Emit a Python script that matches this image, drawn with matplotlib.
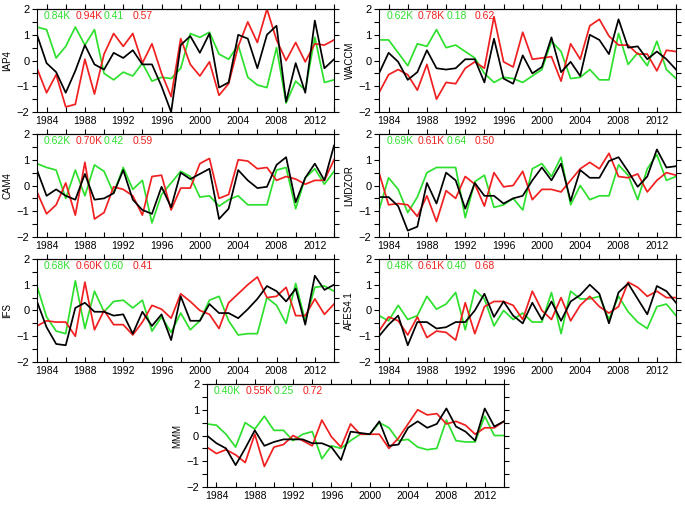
# Interannual anomalies 1983-2014: seven model panels, three lines each

import numpy as np
import matplotlib.pyplot as plt
from matplotlib.ticker import MultipleLocator

plt.rcParams['font.family'] = ['Liberation Sans', 'DejaVu Sans']

years = np.arange(1983, 2015)

# IAP4
iap4_black = [1.0, -0.1, -0.45, -1.25, -0.4, 0.6, -0.15, -0.35, 0.3, 0.1, 0.4, -0.15, -0.15, -1.0, -2.0, 0.6,
              0.95, 0.3, 1.05, -1.05, -0.85, 1.0, 0.85, -0.3, 1.0, 1.35, -1.6, -0.1, -1.25, 1.55, -0.3, 0.05]
iap4_red = [-0.3, -1.25, -0.55, -1.8, -1.7, 0.05, -1.3, 0.25, 1.05, 0.55, 1.05, -0.1, 0.65, -0.5, -1.4, 0.85,
            -0.15, -0.6, -0.05, -1.35, -0.9, 0.55, 1.5, 0.7, 2.0, 0.8, 0.0, 0.7, -0.05, 0.65, 0.6, 0.8]
iap4_green = [1.3, 1.2, 0.1, 0.55, 1.3, 0.6, 1.2, -0.5, -0.75, -0.45, -0.6, -0.1, -0.8, -0.65, -0.7, -0.3,
              1.05, 0.9, 1.1, 0.25, 0.05, 0.6, -0.65, -0.95, -1.05, 0.5, -1.65, -0.8, -1.15, 0.9, -0.85, -0.75]

# WACCM
waccm_black = [-0.5, 0.3, -0.05, -0.75, -0.45, 0.4, -0.3, -0.35, -0.3, 0.05, 0.05, -0.85, 0.85, -0.7, -0.9, 0.2,
               -0.5, -0.25, 0.9, -0.45, -0.05, -0.6, 1.0, 0.8, 0.25, 1.6, 0.5, 0.55, 0.05, 0.35, 0.05, -0.35]
waccm_red = [-1.25, -0.55, -0.35, -0.55, -1.15, -0.15, -1.5, -0.85, -0.9, -0.3, -0.05, -0.3, 1.7, -0.05, -0.25, 1.1,
             0.05, 0.1, 0.15, -0.8, 0.65, 0.05, 1.35, 1.6, 0.95, 0.6, 0.6, 0.25, 0.25, -0.4, 0.4, 0.35]
waccm_green = [0.8, 0.8, 0.3, -0.2, 0.65, 0.55, 1.2, 0.5, 0.6, 0.35, 0.1, -0.5, -0.85, -0.65, -0.7, -0.85,
               -0.6, -0.35, 0.75, 0.35, -0.7, -0.65, -0.35, -0.75, -0.75, 1.05, -0.15, 0.3, -0.2, 0.75, -0.35, -0.7]

# CAM4
cam4_black = [0.6, -0.4, -0.15, -0.4, -0.55, 0.45, -0.55, -0.5, -0.3, 0.6, -0.55, -0.95, -1.1, -0.05, -0.85, 0.5,
              0.25, 0.45, 0.65, -1.3, -0.9, 0.6, 0.2, -0.1, -0.05, 0.8, 1.1, -0.65, 0.3, 0.85, 0.2, 1.55]
cam4_red = [-0.25, -1.1, -0.75, 0.1, -1.15, 0.9, -1.3, -1.05, -0.05, -0.15, -0.4, -1.15, 0.35, 0.4, -0.95, -0.1,
            -0.1, 0.85, 1.05, -0.5, -0.35, 1.0, 0.95, 0.65, 0.7, 0.2, 0.35, 0.25, 0.05, 0.2, 0.2, 1.0]
cam4_green = [0.85, 0.7, 0.6, -0.5, 0.6, -0.4, 0.8, 0.55, -0.3, 0.7, -0.15, 0.2, -1.45, -0.35, 0.1, 0.55,
              0.35, -0.45, -0.4, -0.8, -0.55, -0.4, -0.75, -0.75, -0.75, 0.6, 0.7, -0.9, 0.3, 0.65, 0.05, 0.55]

# LMDZOR
lmdz_black = [-0.45, -0.45, -0.8, -1.75, -1.6, 0.1, -0.7, 0.5, 0.2, -0.9, 0.1, -0.4, -0.4, -0.7, -0.5, -0.4,
              0.2, 0.7, 0.2, 0.85, -0.6, 0.6, 0.3, 0.3, 0.95, 1.1, 0.55, -0.05, 0.35, 1.4, 0.7, 0.75]
lmdz_red = [0.5, -0.75, -0.7, -0.75, -1.2, -0.4, -1.4, -0.2, -0.5, 0.35, 0.05, -0.8, 0.5, -0.05, 0.0, 0.55,
            -0.55, -0.15, -0.15, -0.25, 0.2, 0.65, 0.9, 0.65, 1.25, 0.35, 0.3, 0.45, -0.25, 0.2, 0.5, 0.4]
lmdz_green = [-0.95, 0.3, -0.15, -1.05, -0.45, 0.5, 0.7, 0.7, 0.7, -1.25, 0.15, 0.4, -0.85, -0.75, -0.5, -0.95,
              0.65, 0.85, 0.35, 1.1, -0.75, 0.0, -0.55, -0.4, -0.4, 0.8, 0.4, -0.55, 0.65, 1.2, 0.2, 0.35]

# IFS
ifs_black = [0.35, -0.65, -1.3, -1.35, 0.1, 0.3, -0.05, -0.05, -0.2, -0.15, -0.9, -0.05, -0.6, -0.15, -1.15, 0.55,
             -0.4, -0.4, 0.25, -0.1, -0.1, -0.3, 0.05, 0.45, 0.95, 0.75, 0.35, 0.85, -0.55, 1.35, 0.8, 1.0]
ifs_red = [-0.6, -0.4, -0.45, -0.45, -1.0, 1.1, -0.75, 0.0, -0.55, -0.55, -0.95, -0.45, 0.2, 0.05, -0.3, 0.65,
           0.35, 0.0, -0.15, -0.7, 0.3, 0.65, 1.0, 1.3, 0.5, 0.55, 0.9, -0.2, -0.2, 0.45, -0.15, 0.25]
ifs_green = [0.95, -0.25, -0.8, -0.9, 1.15, -0.7, 0.75, -0.05, 0.35, 0.4, 0.1, 0.4, -0.8, -0.25, -0.85, -0.1,
             -0.75, -0.4, 0.4, 0.55, -0.4, -0.95, -0.9, -0.9, 0.5, 0.2, -0.5, 1.05, -0.4, 0.9, 0.95, 0.75]

# AFES4.1
afes_black = [-1.0, -0.55, -0.2, -1.35, -0.45, -0.45, -0.7, -0.65, -0.45, -0.45, 0.0, 0.65, -0.25, 0.35, -0.2, -0.5,
              0.3, -0.35, 0.35, -0.4, 0.35, 0.6, 1.0, 0.65, -0.5, 0.7, 1.05, 0.45, -0.15, 0.95, 0.75, 0.3]
afes_red = [-0.8, -0.25, -0.4, -0.95, -0.25, -1.05, -0.8, -0.85, -1.15, 0.3, -0.9, 0.15, 0.35, 0.35, 0.2, -0.35,
            0.75, 0.0, -0.35, 0.5, -0.4, 0.2, 0.55, 0.15, -0.1, 0.15, 1.1, 0.9, 0.55, 0.75, 0.5, 0.5]
afes_green = [-0.2, -0.4, 0.2, -0.35, -0.2, 0.55, 0.05, 0.25, 0.7, -0.75, 0.8, 0.45, -0.6, 0.0, -0.35, -0.1,
              -0.45, -0.45, 0.7, -0.9, 0.75, 0.45, 0.45, 0.55, -0.35, 0.55, -0.05, -0.45, -0.7, 0.15, 0.25, -0.2]

# MMM
mmm_black = [0.0, -0.3, -0.5, -1.15, -0.5, 0.2, -0.4, -0.25, -0.15, -0.15, -0.15, -0.3, -0.3, -0.45, -0.95, 0.15,
             0.1, 0.05, 0.55, -0.4, -0.35, 0.3, 0.55, 0.3, 0.45, 1.05, 0.35, 0.15, -0.2, 1.05, 0.35, 0.55]
mmm_red = [-0.45, -0.7, -0.55, -0.75, -1.05, 0.05, -1.2, -0.45, -0.35, 0.0, -0.2, -0.4, 0.6, -0.05, -0.45, 0.45,
           0.05, 0.05, 0.05, -0.5, -0.1, 0.45, 1.0, 0.8, 0.85, 0.45, 0.55, 0.4, 0.05, 0.3, 0.3, 0.55]
mmm_green = [0.45, 0.4, 0.05, -0.45, 0.5, 0.25, 0.75, 0.2, 0.2, -0.2, 0.05, 0.15, -0.9, -0.4, -0.5, -0.2,
             0.05, 0.05, 0.5, 0.3, -0.2, -0.15, -0.45, -0.55, -0.5, 0.6, -0.2, -0.25, -0.25, 0.75, 0.0, 0.0]

names = ['IAP4', 'WACCM', 'CAM4', 'LMDZOR', 'IFS', 'AFES4.1', 'MMM']
blacks = [iap4_black, waccm_black, cam4_black, lmdz_black, ifs_black, afes_black, mmm_black]
reds = [iap4_red, waccm_red, cam4_red, lmdz_red, ifs_red, afes_red, mmm_red]
greens = [iap4_green, waccm_green, cam4_green, lmdz_green, ifs_green, afes_green, mmm_green]

# numbers written in the top left corner of each panel
std_green = ['0.84K', '0.62K', '0.62K', '0.69K', '0.68K', '0.48K', '0.40K']
std_red = ['0.94K', '0.78K', '0.70K', '0.61K', '0.60K', '0.61K', '0.55K']
corr_green = ['0.41', '0.18', '0.42', '0.64', '0.60', '0.40', '0.25']
corr_red = ['0.57', '0.62', '0.59', '0.50', '0.41', '0.68', '0.72']

RED = '#f02020'
GREEN = '#2ee02e'

fig = plt.figure(figsize=(6.85, 5.07), dpi=100)

# axes boxes [left, bottom, width, height] in figure fraction
w, h = 0.4336, 0.2032
boxes = [[0.054, 0.779, w, h], [0.5533, 0.779, w, h],
         [0.054, 0.5325, w, h], [0.5533, 0.5325, w, h],
         [0.054, 0.286, w, h], [0.5533, 0.286, w, h],
         [0.302, 0.0394, w, h]]

for i in range(7):
    ax = fig.add_axes(boxes[i])
    ax.plot(years, greens[i], color=GREEN, lw=1.25)
    ax.plot(years, reds[i], color=RED, lw=1.25)
    ax.plot(years, blacks[i], color='black', lw=1.25)

    ax.set_xlim(1983, 2014)
    ax.set_ylim(-2, 2)
    ax.xaxis.set_minor_locator(MultipleLocator(2))
    ax.set_xticks(np.arange(1984, 2014, 4))
    ax.yaxis.set_major_locator(MultipleLocator(1))
    ax.yaxis.set_minor_locator(MultipleLocator(0.5))
    ax.tick_params(axis='x', which='both', direction='in', length=3.5, width=0.8, labelsize=7.5, pad=3)
    ax.tick_params(axis='y', which='both', direction='out', length=3.5, width=0.8, labelsize=8,
                   right=True, pad=2)
    # top ticks point upward, like the bottom ones
    top = ax.secondary_xaxis('top')
    top.xaxis.set_major_locator(MultipleLocator(2))
    top.tick_params(direction='out', length=3.5, width=0.8, labelsize=0, labeltop=False)
    for s in ax.spines.values():
        s.set_linewidth(0.8)
    top.spines['top'].set_linewidth(0.8)

    ax.set_ylabel(names[i], fontsize=7, labelpad=3)

    # coloured numbers in the corner
    ty = 0.935
    ax.text(0.024, ty, std_green[i], color=GREEN, fontsize=7.5, transform=ax.transAxes, va='center')
    ax.text(0.131, ty, std_red[i], color=RED, fontsize=7.5, transform=ax.transAxes, va='center')
    ax.text(0.226, ty, corr_green[i], color=GREEN, fontsize=7.5, transform=ax.transAxes, va='center')
    ax.text(0.323, ty, corr_red[i], color=RED, fontsize=7.5, transform=ax.transAxes, va='center')

fig.savefig('out.png', dpi=100)
